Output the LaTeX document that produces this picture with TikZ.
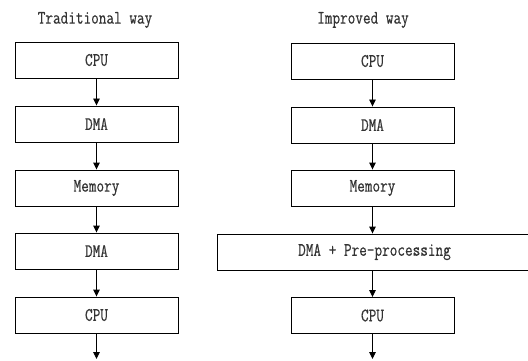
\documentclass[tikz,border=0pt]{standalone}
\usepackage{fontspec}
\newfontfamily\labfont[FakeStretch=0.78,FakeBold=0.4]{Latin Modern Mono}
\usetikzlibrary{arrows.meta}
\begin{document}
\begin{tikzpicture}[x=1pt,y=-1pt,
  box/.style={draw=black, line width=0.9pt, minimum width=163pt, minimum height=36pt, inner sep=0pt,
    font=\labfont\fontsize{19}{22}\selectfont, text=black!80},
  title/.style={font=\labfont\fontsize{19}{22}\selectfont, text=black!80, inner sep=0pt},
  arr/.style={draw=black, line width=0.9pt, -{Triangle[length=7pt,width=6.5pt]}}]
\clip (0,0) rectangle (528,361);
\fill[white] (0,0) rectangle (528,361);
% left column
\node[title] (t1) at (95,20) {Traditional way};
\node[box] (l1) at (96.5,60) {CPU};
\node[box] (l2) at (96.5,124) {DMA};
\node[box] (l3) at (96.5,188) {Memory};
\node[box] (l4) at (96.5,251) {DMA};
\node[box] (l5) at (96.5,315) {CPU};
\coordinate (lend) at (96.5,359);
\draw[arr] (l1) -- (l2);
\draw[arr] (l2) -- (l3);
\draw[arr] (l3) -- (l4);
\draw[arr] (l4) -- (l5);
\draw[arr] (l5) -- (lend);
% right column
\node[title] (t2) at (363,20) {Improved way};
\node[box] (r1) at (372.5,61) {CPU};
\node[box] (r2) at (372.5,125) {DMA};
\node[box] (r3) at (372.5,188) {Memory};
\node[box, minimum width=363pt] (r4) at (398.5,252) {};
\node[title] (r4t) at (374.5,252) {DMA + Pre-processing};
\node[box] (r5) at (372.5,315.5) {CPU};
\coordinate (rend) at (372.5,359);
\draw[arr] (r1) -- (r2);
\draw[arr] (r2) -- (r3);
\draw[arr] (r3.south) -- (r3.south |- r4.north);
\draw[arr] (r3.south |- r4.south) -- (r5.north);
\draw[arr] (r5) -- (rend);
\end{tikzpicture}
\end{document}
